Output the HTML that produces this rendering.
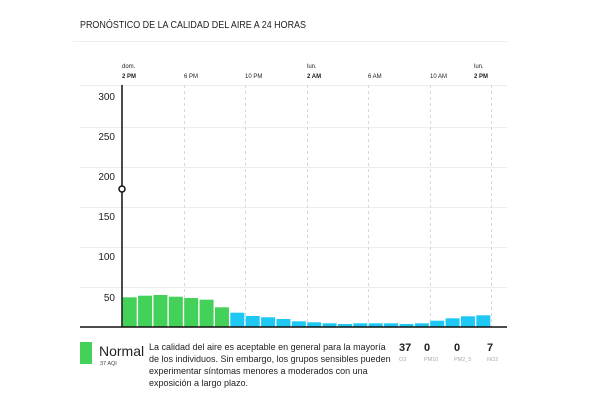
<!DOCTYPE html>
<html><head><meta charset="utf-8"><style>
html,body{margin:0;padding:0;background:#fff;}
svg{display:block;font-family:"Liberation Sans",sans-serif;}
</style></head><body>
<svg width="600" height="400" viewBox="0 0 600 400" xmlns="http://www.w3.org/2000/svg">
<text x="80" y="28" font-size="10.5" fill="#222" textLength="226" lengthAdjust="spacingAndGlyphs">PRONÓSTICO DE LA CALIDAD DEL AIRE A 24 HORAS</text>
<line x1="73" y1="41.5" x2="507" y2="41.5" stroke="#eceef2" stroke-width="1"/>
<g font-size="6" fill="#222">
<text x="122" y="68">dom.</text><text x="122" y="78" font-weight="bold">2 PM</text>
<text x="184" y="78">6 PM</text>
<text x="245" y="78">10 PM</text>
<text x="307" y="68">lun.</text><text x="307" y="78" font-weight="bold">2 AM</text>
<text x="368" y="78">6 AM</text>
<text x="430" y="78">10 AM</text>
<text x="474" y="68">lun.</text><text x="474" y="78" font-weight="bold">2 PM</text>
</g>
<g stroke="#ececec" stroke-width="1">
<line x1="80" y1="85.5" x2="507" y2="85.5"/>
<line x1="80" y1="127.5" x2="507" y2="127.5"/>
<line x1="80" y1="167.5" x2="507" y2="167.5"/>
<line x1="80" y1="207.5" x2="507" y2="207.5"/>
<line x1="80" y1="247.5" x2="507" y2="247.5"/>
<line x1="80" y1="287.5" x2="507" y2="287.5"/>
</g>
<g stroke="#d8d8d8" stroke-width="1" stroke-dasharray="3,3">
<line x1="184.5" y1="85" x2="184.5" y2="327"/>
<line x1="245.5" y1="85" x2="245.5" y2="327"/>
<line x1="307.5" y1="85" x2="307.5" y2="327"/>
<line x1="368.5" y1="85" x2="368.5" y2="327"/>
<line x1="430.5" y1="85" x2="430.5" y2="327"/>
<line x1="491.5" y1="85" x2="491.5" y2="327"/>
</g>
<g font-size="10" fill="#222" text-anchor="end">
<text x="115" y="100">300</text>
<text x="115" y="140">250</text>
<text x="115" y="180">200</text>
<text x="115" y="220">150</text>
<text x="115" y="260">100</text>
<text x="115" y="301">50</text>
</g>
<g fill="#44d15a">
<rect x="122.7" y="297.3" width="14" height="29.7"/>
<rect x="138.08" y="295.7" width="14" height="31.3"/>
<rect x="153.45" y="295" width="14" height="32"/>
<rect x="168.83" y="296.7" width="14" height="30.3"/>
<rect x="184.2" y="298" width="14" height="29"/>
<rect x="199.58" y="299.7" width="14" height="27.3"/>
<rect x="214.95" y="307.3" width="14" height="19.7"/>
</g>
<g fill="#1ec8f5">
<rect x="230.33" y="312.7" width="14" height="14.3"/>
<rect x="245.7" y="316" width="14" height="11"/>
<rect x="261.08" y="317.3" width="14" height="9.7"/>
<rect x="276.45" y="319" width="14" height="8"/>
<rect x="291.83" y="321.3" width="14" height="5.7"/>
<rect x="307.2" y="322.3" width="14" height="4.7"/>
<rect x="322.58" y="323.3" width="14" height="3.7"/>
<rect x="337.95" y="324" width="14" height="3"/>
<rect x="353.33" y="323.3" width="14" height="3.7"/>
<rect x="368.7" y="323.3" width="14" height="3.7"/>
<rect x="384.08" y="323.3" width="14" height="3.7"/>
<rect x="399.45" y="324" width="14" height="3"/>
<rect x="414.83" y="323.3" width="14" height="3.7"/>
<rect x="430.2" y="320.7" width="14" height="6.3"/>
<rect x="445.58" y="318.3" width="14" height="8.7"/>
<rect x="460.95" y="316.3" width="14" height="10.7"/>
<rect x="476.33" y="315.3" width="14" height="11.7"/>
</g>
<line x1="80" y1="327" x2="507" y2="327" stroke="#111" stroke-width="1.5"/>
<line x1="122" y1="85" x2="122" y2="327" stroke="#111" stroke-width="1.5"/>
<circle cx="122" cy="189" r="3" fill="#fff" stroke="#111" stroke-width="1.5"/>
<rect x="80" y="342" width="12" height="22" fill="#44d15a"/>
<text x="99" y="356" font-size="14" fill="#222">Normal</text>
<text x="100" y="365" font-size="5.5" fill="#444">37 AQI</text>
<g font-size="9" fill="#222">
<text x="149" y="350">La calidad del aire es aceptable en general para la mayoría</text>
<text x="149" y="362">de los individuos. Sin embargo, los grupos sensibles pueden</text>
<text x="149" y="374">experimentar síntomas menores a moderados con una</text>
<text x="149" y="386">exposición a largo plazo.</text>
</g>
<g font-size="11" font-weight="bold" fill="#222">
<text x="399" y="351">37</text><text x="424" y="351">0</text><text x="454" y="351">0</text><text x="487" y="351">7</text>
</g>
<g font-size="5.5" fill="#aaa">
<text x="399" y="361">O3</text><text x="424" y="361">PM10</text><text x="454" y="361">PM2_5</text><text x="487" y="361">NO2</text>
</g>
</svg>
</body></html>
